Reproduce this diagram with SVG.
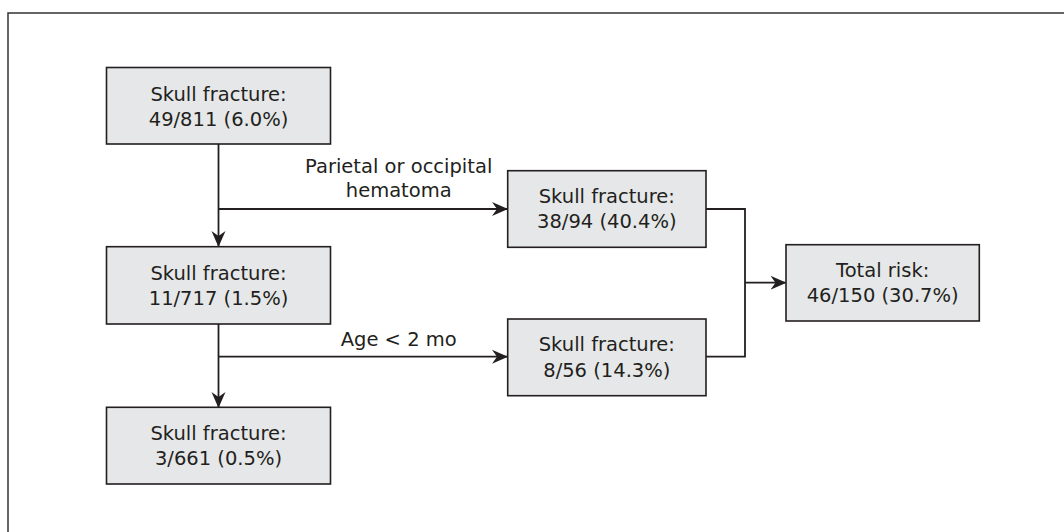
<svg xmlns="http://www.w3.org/2000/svg" width="1064" height="532" viewBox="0 0 1064 532">
<style>
.box{fill:#e6e7e8;stroke:#231f20;stroke-width:1.6}
.t{font-family:"DejaVu Sans","Open Sans",sans-serif;font-size:19.5px;fill:#231f20;text-anchor:middle}
.ln{fill:none;stroke:#231f20;stroke-width:1.8}
</style>
<defs>
<marker id="ah" markerUnits="userSpaceOnUse" markerWidth="16" markerHeight="16" viewBox="0 0 16 16" refX="15" refY="8" orient="auto">
<path d="M0,1 L16,8 L0,15 L5,8 z" fill="#231f20"/>
</marker>
</defs>
<rect x="8" y="13" width="1070" height="540" fill="none" stroke="#333" stroke-width="1.5"/>
<g id="connectors">
<line class="ln" x1="218.5" y1="144" x2="218.5" y2="246" marker-end="url(#ah)"/>
<line class="ln" x1="218.5" y1="209" x2="507" y2="209" marker-end="url(#ah)"/>
<line class="ln" x1="218.5" y1="324" x2="218.5" y2="407" marker-end="url(#ah)"/>
<line class="ln" x1="218.5" y1="356.7" x2="507" y2="356.7" marker-end="url(#ah)"/>
<polyline class="ln" points="706,209 745,209 745,356.7 706,356.7"/>
<line class="ln" x1="745" y1="282.7" x2="785.5" y2="282.7" marker-end="url(#ah)"/>
<text class="t" x="398.7" y="172.7">Parietal or occipital</text>
<text class="t" x="398.7" y="196.7">hematoma</text>
<text class="t" x="398.7" y="346">Age &lt; 2 mo</text>
</g>
<g id="n1">
<rect class="box" x="106.5" y="67.5" width="224" height="76.5"/>
<text class="t" x="218.5" y="100.7">Skull fracture:</text>
<text class="t" x="218.5" y="125.7">49/811 (6.0%)</text>
</g>
<g id="n2">
<rect class="box" x="106.5" y="246.7" width="224" height="77.3"/>
<text class="t" x="218.5" y="279.5">Skull fracture:</text>
<text class="t" x="218.5" y="304.5">11/717 (1.5%)</text>
</g>
<g id="n3">
<rect class="box" x="106.5" y="407.3" width="224" height="76.7"/>
<text class="t" x="218.5" y="440">Skull fracture:</text>
<text class="t" x="218.5" y="465">3/661 (0.5%)</text>
</g>
<g id="n4">
<rect class="box" x="507.7" y="170.7" width="198.3" height="76.6"/>
<text class="t" x="606.8" y="202.7">Skull fracture:</text>
<text class="t" x="606.8" y="228.3">38/94 (40.4%)</text>
</g>
<g id="n5">
<rect class="box" x="507.7" y="319" width="198.3" height="76.7"/>
<text class="t" x="606.8" y="351">Skull fracture:</text>
<text class="t" x="606.8" y="376.5">8/56 (14.3%)</text>
</g>
<g id="n6">
<rect class="box" x="786" y="244.7" width="193.3" height="76.3"/>
<text class="t" x="882.7" y="276.5">Total risk:</text>
<text class="t" x="882.7" y="302">46/150 (30.7%)</text>
</g>
</svg>
